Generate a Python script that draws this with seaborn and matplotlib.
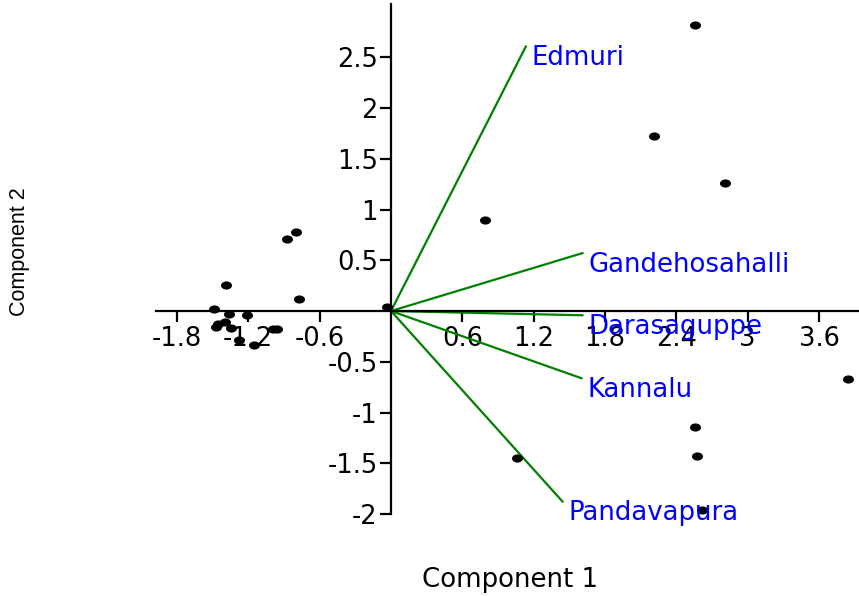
import numpy as np
import pandas as pd
import matplotlib
matplotlib.use('Agg')
import matplotlib.pyplot as plt
import matplotlib.path as mpath
from matplotlib.transforms import Affine2D
import seaborn as sns

# scores (component 1, component 2)
comp1 = [2.557, 2.212, 2.809, 0.791, 3.844, 2.557, 2.574, 2.616, 1.060, -0.034,
         -0.800, -0.877, -1.388, -0.776, -1.489, -1.362, -1.214, -1.396, -1.452,
         -1.472, -1.346, -0.995, -0.956, -1.278, -1.155]
comp2 = [2.818, 1.724, 1.261, 0.897, -0.670, -1.143, -1.429, -1.961, -1.448, 0.039,
         0.775, 0.709, 0.253, 0.118, 0.020, -0.033, -0.039, -0.105, -0.131,
         -0.154, -0.171, -0.181, -0.181, -0.286, -0.335]

# loadings
var_names = ['Edmuri', 'Gandehosahalli', 'Darasaguppe', 'Kannalu', 'Pandavapura']
load1 = [1.135, 1.612, 1.612, 1.604, 1.444]
load2 = [2.608, 0.571, -0.042, -0.663, -1.879]

xticks = [-1.8, -1.2, -0.6, 0.6, 1.2, 1.8, 2.4, 3, 3.6]
xticklabels = ['-1.8', '-1.2', '-0.6', '0.6', '1.2', '1.8', '2.4', '3', '3.6']
yticks = [2.5, 2, 1.5, 1, 0.5, -0.5, -1, -1.5, -2]
yticklabels = ['2.5', '2', '1.5', '1', '0.5', '-0.5', '-1', '-1.5', '-2']

sns.set_style('white')
plt.rcParams['font.family'] = ['DejaVu Sans']
plt.rcParams['text.color'] = 'black'
plt.rcParams['xtick.color'] = 'black'
plt.rcParams['ytick.color'] = 'black'
plt.rcParams['xtick.labelcolor'] = 'black'
plt.rcParams['ytick.labelcolor'] = 'black'

df = pd.DataFrame({'c1': comp1, 'c2': comp2})

fig = plt.figure(figsize=(8.59, 5.96), dpi=100)
ax = fig.add_axes([153.2 / 859, 1 - 524.2 / 596, 705.1 / 859, 522.8 / 596])

# slightly wide dots
dot = mpath.Path.unit_circle().transformed(Affine2D().scale(1.35, 1.0))
sns.scatterplot(data=df, x='c1', y='c2', ax=ax, marker=dot, s=63,
                color='black', linewidth=0, legend=False, zorder=3)

for name, lx, ly in zip(var_names, load1, load2):
    ax.plot([0, lx], [0, ly], color='#008000', lw=1.6, zorder=2)
    ax.annotate(name, (lx, ly), xytext=(4.0, -13.3), textcoords='offset points',
                ha='left', va='baseline', color='#0000ff', fontsize=18.7)

ax.set_xlim(-2.0, 3.93)
ax.set_ylim(-2.1, 3.05)

for s in ['top', 'right']:
    ax.spines[s].set_visible(False)
ax.spines['left'].set_position(('data', 0))
ax.spines['bottom'].set_position(('data', 0))
ax.spines['left'].set_bounds(-2, 3.02)
ax.spines['bottom'].set_bounds(-1.98, 3.93)
for s in ['left', 'bottom']:
    ax.spines[s].set_linewidth(1.6)
    ax.spines[s].set_color('black')

ax.set_xticks(xticks)
ax.set_xticklabels(xticklabels)
ax.set_yticks(yticks)
ax.set_yticklabels(yticklabels)
ax.tick_params(axis='x', direction='out', length=8, width=1.6, pad=2.5, labelsize=18.5,
               bottom=True)
ax.tick_params(axis='y', direction='out', length=8, width=1.6, pad=1.5, labelsize=18.5,
               left=True)
ax.set_xlabel('')
ax.set_ylabel('')

fig.text(510 / 859, 1 - 587 / 596, 'Component 1', ha='center', va='baseline', fontsize=18.7)
fig.text(20 / 859, 1 - 251.5 / 596, 'Component 2', ha='center', va='center',
         rotation=90, fontsize=15.5, family=['Liberation Sans', 'DejaVu Sans'])

fig.savefig('out.png', dpi=100)
